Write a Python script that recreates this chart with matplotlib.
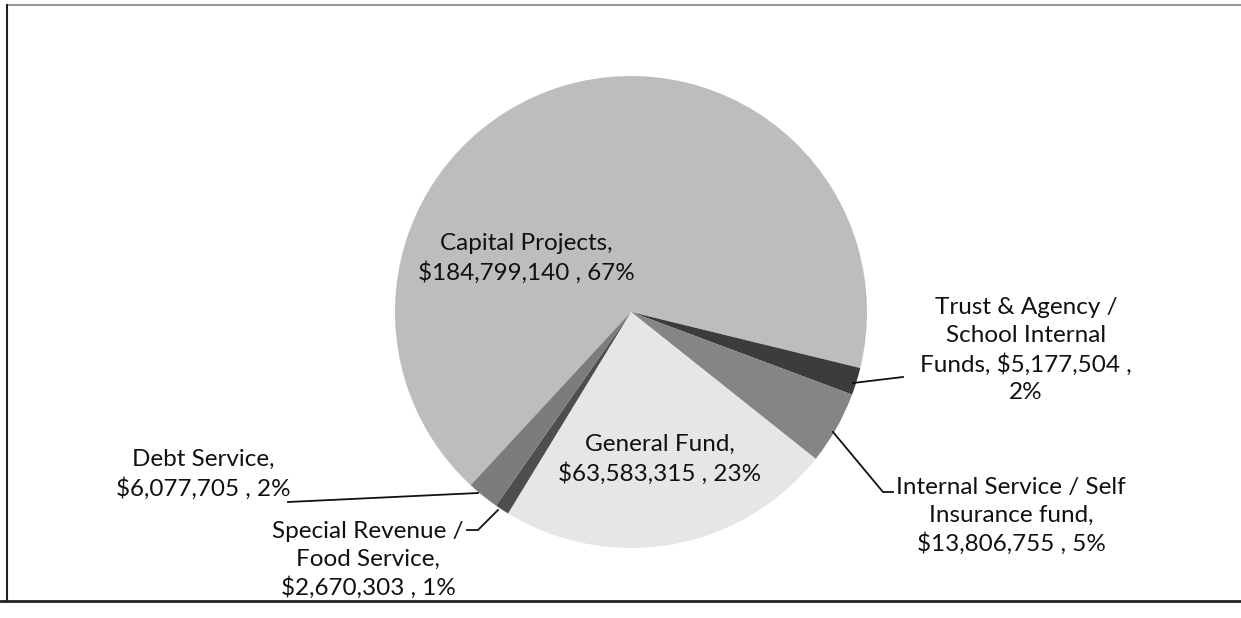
import matplotlib.pyplot as plt
from matplotlib.lines import Line2D

# fund data, in the order the slices run clockwise
names = ["Capital Projects", "Trust & Agency /\nSchool Internal\nFunds",
         "Internal Service / Self\nInsurance fund", "General Fund",
         "Special Revenue /\nFood Service", "Debt Service"]
values = [184799140, 5177504, 13806755, 63583315, 2670303, 6077705]
name_sep = ["\n", " ", "\n", "\n", "\n", "\n"]
pct_sep = [" ", "\n", " ", " ", " ", " "]
colors = ["#bdbdbd", "#3c3c3c", "#858585", "#e6e6e6", "#4e4e4e", "#7c7c7c"]

W, H = 1241, 618
plt.rcParams['font.family'] = ['Lato', 'DejaVu Sans']

fig = plt.figure(figsize=(W / 100, H / 100), dpi=100)
ax = fig.add_axes([0, 0, 1, 1])

def P(x, y):  # pixel (top-left origin) -> axes data
    return (x, H - y)

ax.pie(values, colors=colors, startangle=227.2, counterclock=False,
       center=P(631, 312), radius=236, frame=True,
       wedgeprops=dict(linewidth=0))
ax.set_xlim(0, W)
ax.set_ylim(0, H)
ax.set_aspect('equal')
ax.axis('off')

total = sum(values)
labels = []
for n, v, s1, s2 in zip(names, values, name_sep, pct_sep):
    labels.append(f"{n},{s1}${v:,} ,{s2}{round(v / total * 100)}%")

# label centres (pixels)
pos = [(526, 258), (1026, 350), (1011, 516), (660, 459), (368, 560), (203, 474)]
for lab, (x, y) in zip(labels, pos):
    ax.text(*P(x, y), lab, ha='center', va='center', fontsize=17.5,
            color='#111111', linespacing=1.38)

# leader lines
leaders = [
    [(853, 383), (903, 377)],
    [(833, 432), (883, 492), (893, 492)],
    [(288, 502), (478, 493)],
    [(467, 530), (478, 530), (498, 510)],
]
for pts in leaders:
    xs = [p[0] for p in pts]
    ys = [H - p[1] for p in pts]
    ax.plot(xs, ys, color='#111111', lw=1.3, solid_joinstyle='miter')

# scanned frame
fig.add_artist(Line2D([7 / W, 1], [1 - 5 / H, 1 - 5 / H], color='#9a9a9a', lw=1.5))
fig.add_artist(Line2D([7 / W, 7 / W], [1 - 5 / H, 1 - 600 / H], color='#222222', lw=1.5))
fig.add_artist(Line2D([0, 1], [1 - 601 / H, 1 - 601 / H], color='#222222', lw=2))

fig.savefig("out.png", dpi=100, facecolor='white')
